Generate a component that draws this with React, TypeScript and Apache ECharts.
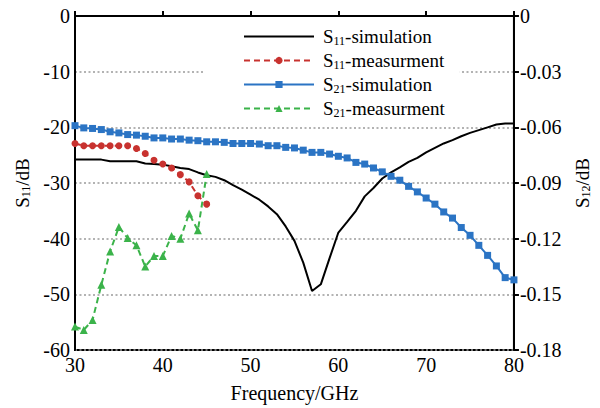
import React, { useEffect, useRef } from "react";
import * as echarts from "echarts";

const FONT = "'Liberation Serif', 'Times New Roman', serif";

// Frequency grid (GHz)
const freqSim = [
  30, 31, 32, 33, 34, 35, 36, 37, 38, 39, 40, 41, 42, 43, 44, 45, 46, 47, 48, 49, 50,
  51, 52, 53, 54, 55, 56, 57, 58, 59, 60, 61, 62, 63, 64, 65, 66, 67, 68, 69, 70,
  71, 72, 73, 74, 75, 76, 77, 78, 79, 80,
];
const freqMeas = [30, 31, 32, 33, 34, 35, 36, 37, 38, 39, 40, 41, 42, 43, 44, 45];

// S11 simulation (dB, left axis)
const s11Sim = [
  -25.8, -25.8, -25.8, -25.8, -26.1, -26.1, -26.1, -26.1, -26.5, -26.6, -26.7, -27.0,
  -27.3, -27.5, -28.1, -28.6, -28.9, -29.5, -30.4, -31.2, -32.1, -33.0, -34.2, -35.6,
  -37.8, -40.4, -44.3, -49.4, -48.2, -43.5, -38.9, -37.0, -35.0, -32.4, -30.9, -29.2,
  -28.1, -27.2, -26.2, -25.5, -24.5, -23.7, -22.9, -22.3, -21.6, -21.0, -20.5, -20.0,
  -19.5, -19.3, -19.3,
];
// S11 measurement (dB, left axis)
const s11Meas = [
  -22.9, -23.3, -23.3, -23.3, -23.3, -23.3, -23.3, -23.8, -24.7, -25.9, -26.6, -27.3,
  -28.5, -29.8, -32.3, -33.8,
];
// S21 simulation (dB, right axis)
const s21Sim = [
  -0.0591, -0.0603, -0.0606, -0.0612, -0.0624, -0.063, -0.0639, -0.0642, -0.0648,
  -0.0657, -0.0657, -0.0663, -0.0663, -0.0669, -0.0672, -0.0678, -0.0678, -0.0681,
  -0.0687, -0.0687, -0.0687, -0.069, -0.0699, -0.0699, -0.0708, -0.0711, -0.0723,
  -0.0735, -0.0735, -0.0744, -0.0756, -0.0765, -0.0789, -0.0798, -0.0819, -0.084,
  -0.0864, -0.0885, -0.0918, -0.0948, -0.0981, -0.1014, -0.1056, -0.1089, -0.114,
  -0.1182, -0.1236, -0.129, -0.1347, -0.141, -0.1422,
];
// S21 measurement (dB, drawn on left scale)
const s21Meas = [
  -55.8, -56.4, -54.6, -48.3, -42.3, -37.9, -39.9, -41.2, -45.0, -43.1, -43.1, -39.5,
  -40.0, -35.5, -38.5, -28.4,
];

const seriesNames = ["S11-simulation", "S11-measurment", "S21-simulation", "S21-measurment"];
const legendRich: Record<string, string> = {
  "S11-simulation": "{a|S}{b|11}{a|-simulation}",
  "S11-measurment": "{a|S}{b|11}{a|-measurment}",
  "S21-simulation": "{a|S}{b|21}{a|-simulation}",
  "S21-measurment": "{a|S}{b|21}{a|-measurment}",
};

const richStyle = {
  a: { fontFamily: FONT, fontSize: 19, color: "#000", lineHeight: 20 },
  b: { fontFamily: FONT, fontSize: 12, color: "#000", lineHeight: 11, verticalAlign: "bottom" as const },
};

const labelStyle = { fontFamily: FONT, fontSize: 20, color: "#000" };

const pair = (xs: number[], ys: number[]) => xs.map((x, i) => [x, ys[i]]);

export default function App() {
  const ref = useRef<HTMLDivElement>(null);
  useEffect(() => {
    if (!ref.current) return;
    const chart = echarts.init(ref.current, null, { renderer: "svg" });
    chart.setOption({
      animation: false,
      backgroundColor: "#fff",
      textStyle: { fontFamily: FONT },
      grid: {
        left: 75,
        right: 83,
        top: 16,
        bottom: 58,
        show: true,
        borderColor: "#000",
        borderWidth: 2,
        backgroundColor: "transparent",
      },
      legend: {
        orient: "vertical",
        left: 203,
        top: 25,
        padding: [2, 15, 2, 40],
        backgroundColor: "#fff",
        itemWidth: 70,
        itemHeight: 9,
        itemGap: 4.5,
        data: [
          { name: seriesNames[0], itemStyle: { opacity: 0 } },
          { name: seriesNames[1] },
          { name: seriesNames[2] },
          { name: seriesNames[3] },
        ],
        formatter: (n: string) => legendRich[n],
        textStyle: { fontFamily: FONT, fontSize: 19, color: "#000", padding: [0, 0, 0, 4], rich: richStyle },
      },
      xAxis: {
        type: "value",
        min: 30,
        max: 80,
        interval: 10,
        name: "Frequency/GHz",
        nameLocation: "middle",
        nameGap: 33,
        nameTextStyle: labelStyle,
        axisLine: { lineStyle: { color: "#000", width: 2 } },
        axisTick: { inside: true, length: 5, lineStyle: { color: "#000", width: 2 } },
        axisLabel: { ...labelStyle, margin: 5 },
        splitLine: { show: false },
      },
      yAxis: [
        {
          type: "value",
          min: -60,
          max: 0,
          interval: 10,
          name: "{a|S}{b|11}{a|/dB}",
          nameLocation: "middle",
          nameGap: 36,
          nameRotate: 90,
          nameTextStyle: { rich: richStyle },
          axisLine: { show: true, lineStyle: { color: "#000", width: 2 } },
          axisTick: { show: false },
          axisLabel: { ...labelStyle, margin: 5 },
          splitLine: { show: true, lineStyle: { color: "#9a9a9a", width: 1.6, type: [2, 2.5] } },
        },
        {
          type: "value",
          min: -0.18,
          max: 0,
          interval: 0.03,
          position: "right",
          name: "{a|S}{b|12}{a|/dB}",
          nameLocation: "middle",
          nameGap: 58,
          nameRotate: 90,
          nameTextStyle: { rich: richStyle },
          axisLine: { show: true, lineStyle: { color: "#000", width: 2 } },
          axisTick: { show: true, inside: false, length: 5, lineStyle: { color: "#000", width: 2 } },
          axisLabel: {
            ...labelStyle,
            margin: 6,
            formatter: (v: number) => (Math.abs(v) < 1e-9 ? "0" : v.toFixed(2)),
          },
          splitLine: { show: false },
        },
      ],
      series: [
        {
          name: "S11-simulation",
          type: "line",
          yAxisIndex: 0,
          data: pair(freqSim, s11Sim),
          symbol: "none",
          lineStyle: { color: "#000", width: 2 },
          itemStyle: { color: "#000" },
          z: 3,
        },
        {
          name: "S11-measurment",
          type: "line",
          yAxisIndex: 0,
          data: pair(freqMeas, s11Meas),
          symbol: "circle",
          symbolSize: 7,
          lineStyle: { color: "#c8322f", width: 2, type: [6, 4] },
          itemStyle: { color: "#c8322f" },
          z: 4,
        },
        {
          name: "S21-simulation",
          type: "line",
          yAxisIndex: 1,
          data: pair(freqSim, s21Sim),
          symbol: "rect",
          symbolSize: 7,
          lineStyle: { color: "#2b74c4", width: 2 },
          itemStyle: { color: "#2b74c4" },
          z: 4,
        },
        {
          name: "S21-measurment",
          type: "line",
          yAxisIndex: 0,
          data: pair(freqMeas, s21Meas),
          symbol: "triangle",
          symbolSize: 8,
          lineStyle: { color: "#3bb34a", width: 2, type: [6, 4] },
          itemStyle: { color: "#3bb34a" },
          z: 4,
        },
      ],
    });
    return () => chart.dispose();
  }, []);
  return <div ref={ref} style={{ position: "fixed", left: 0, top: 0, width: 600, height: 408 }} />;
}
